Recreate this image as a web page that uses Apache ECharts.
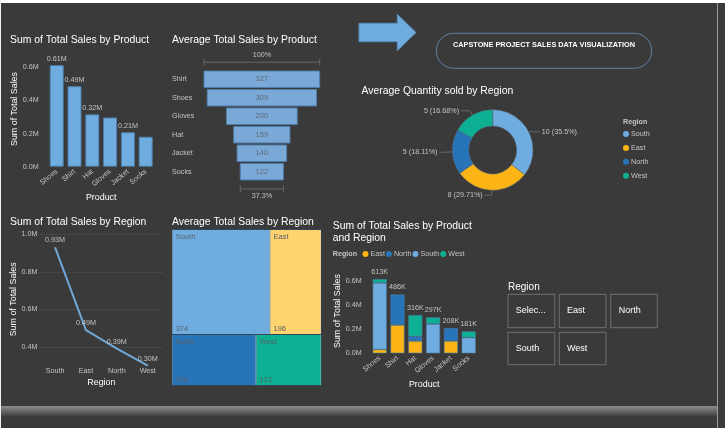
<!DOCTYPE html>
<html><head><meta charset="utf-8">
<style>html,body{margin:0;padding:0;background:#3a3a3a}#c{width:725px;height:428px}</style>
<script src="https://cdn.jsdelivr.net/npm/echarts@6/dist/echarts.min.js"></script>
</head><body><div id="c"></div>
<script>
const productsBySales = ['Shoes','Shirt','Hat','Gloves','Jacket','Socks'];
const salesByProduct = [0.613,0.486,0.316,0.297,0.208,0.181];
const salesLabelShown = [true,true,true,false,true,false];
const productsByAvg = ['Shirt','Shoes','Gloves','Hat','Jacket','Socks'];
const avgSalesByProduct = [327,309,200,159,140,122];
const quantityRegions = ['South','East','North','West'];
const avgQuantity = [10,8,5,5];
const quantityShare = [35.5,29.71,18.11,16.68];
const regions = ['South','East','North','West'];
const salesByRegion = [0.93,0.489,0.39,0.30];
const avgSalesByRegion = [374,196,156,121];
const eastSales =  [0.032,0.234,0.102,null,0.102,null];
const northSales = [null,0.252,0.038,null,0.106,null];
const southSales = [0.550,null,null,0.242,null,0.130];
const westSales =  [0.031,null,0.176,0.055,null,0.051];
const slicerItems = [['Selec...','East','North'],['South','West']];

const FONT='"Liberation Sans",Arial,sans-serif';
const C={South:'#6fade0',East:'#fdb515',North:'#2874b8',West:'#0eb094',TreeEast:'#ffd36e',bg:'#3a3a3a',txt:'#c4c4c4',edge:'#4f7ea8'};
const lab={color:C.txt,fontSize:7.2,fontFamily:FONT};
const nameS=(p)=>({color:'#fff',fontSize:8.9,fontFamily:FONT,padding:p||0});
function text(x,y,t,o){return {type:'text',x,y,silent:true,style:Object.assign({text:t,fill:'#fff',font:'10.4px '+FONT,verticalAlign:'middle'},o||{})};}
function catAxis(i,data,name,gap){return {gridIndex:i,type:'category',data,axisLine:{show:false},axisTick:{show:false},
  axisLabel:Object.assign({},lab,{rotate:40,margin:4,interval:0}),name,nameLocation:'middle',nameGap:gap,nameTextStyle:nameS()};}
function valAxis(i,name,pad){return {gridIndex:i,type:'value',min:0,max:0.6,interval:0.2,splitLine:{show:false},axisLine:{show:false},axisTick:{show:false},
  axisLabel:Object.assign({},lab,{margin:9,formatter:v=>v.toFixed(1)+'M'}),name,nameLocation:'middle',nameGap:24,nameTextStyle:nameS([0,0,0,pad])};}
const stackItem=(name,data)=>({type:'bar',name,xAxisIndex:3,yAxisIndex:3,stack:'s',clip:false,data,barWidth:14,itemStyle:{color:C[name],borderColor:C.edge,borderWidth:.6}});
const maxAvg=Math.max(...avgSalesByProduct);
function funnelItem(params,api){
  const v=api.value(1),i=params.dataIndex;
  const a=api.coord([-v/2,i]),b=api.coord([v/2,i]),h=api.size([0,1])[1]*0.89;
  const kids=[
    {type:'rect',shape:{x:a[0],y:a[1]-h/2,width:b[0]-a[0],height:h},style:{fill:'#7aa9d8',stroke:'#4f7ea8',lineWidth:1}},
    {type:'text',x:(a[0]+b[0])/2,y:a[1],style:{text:String(v),fill:'#5f6a75',font:'7.5px '+FONT,align:'center',verticalAlign:'middle'}}];
  const bracket=(y,ty,label)=>{
    const ln=(x1,y1,x2,y2)=>({type:'line',shape:{x1,y1,x2,y2},style:{stroke:'#666',lineWidth:1}});
    kids.push(ln(a[0],y,b[0],y),ln(a[0],y-3.5,a[0],y+3.5),ln(b[0],y-3.5,b[0],y+3.5),
      {type:'text',x:(a[0]+b[0])/2,y:ty,style:{text:label,fill:C.txt,font:'7.2px '+FONT,align:'center',verticalAlign:'middle'}});};
  const pct=v/maxAvg*100;
  if(i===0) bracket(a[1]-h/2-8.8,a[1]-h/2-16.4,'100%');
  if(i===avgSalesByProduct.length-1) bracket(a[1]+h/2+9,a[1]+h/2+16.5,pct.toFixed(1)+'%');
  return {type:'group',children:kids};
}
const treeSpacer={South:84,East:84,North:30,West:30};
const treeData=regions.map((r,i)=>({name:r,value:avgSalesByRegion[i],
  itemStyle:{color:r==='East'?C.TreeEast:C[r]},
  label:{formatter:`{n|${r}}\n{s${i}|}\n{n|${avgSalesByRegion[i]}}`,
    rich:{n:{fontSize:7.5,height:8,lineHeight:8,color:'#56616b',fontFamily:FONT},['s'+i]:{height:treeSpacer[r],lineHeight:treeSpacer[r]}}}}));
const option={
  backgroundColor:C.bg,animation:false,textStyle:{fontFamily:FONT},
  grid:[
    {left:47.8,width:106.8,top:67.3,height:99.4},
    {left:204,width:115.7,top:70,height:111},
    {left:39.6,width:123.6,top:234.3,height:150},
    {left:370.8,width:106.8,top:280.7,height:72.6}],
  xAxis:[
    catAxis(0,productsBySales,'Product',26.5),
    {gridIndex:1,type:'value',min:-maxAvg/2,max:maxAvg/2,show:false},
    {gridIndex:2,type:'category',data:regions,offset:-18.5,axisLine:{show:false},axisTick:{show:false},
     axisLabel:Object.assign({},lab,{margin:2,interval:0}),name:'Region',nameLocation:'middle',nameGap:12,nameTextStyle:nameS()},
    catAxis(3,productsBySales,'Product',26.5)],
  yAxis:[
    valAxis(0,'Sum of Total Sales',16),
    {gridIndex:1,type:'category',inverse:true,data:productsByAvg,axisLine:{show:false},axisTick:{show:false},
     axisLabel:Object.assign({},lab,{margin:32,align:'left'})},
    {gridIndex:2,type:'value',min:0.2,max:1.0,interval:0.2,axisLine:{show:false},axisTick:{show:false},
     splitLine:{show:true,showMinLine:false,lineStyle:{color:'#555',type:'dotted',width:1}},
     axisLabel:Object.assign({},lab,{margin:2,formatter:v=>v<0.3?'':v.toFixed(1)+'M'}),
     name:'Sum of Total Sales',nameLocation:'middle',nameGap:18.5,nameTextStyle:nameS([0,0,0,20])},
    valAxis(3,'Sum of Total Sales',12)],
  legend:[
    {data:['South','East','North','West'],orient:'vertical',left:623,top:130.5,padding:0,icon:'circle',itemWidth:6,itemHeight:6,itemGap:6.9,
     itemStyle:{borderWidth:0},textStyle:{color:C.txt,fontSize:7.2,fontFamily:FONT,padding:[0,0,0,-3]},selectedMode:false},
    {data:['East','North','South','West'],orient:'horizontal',left:362.5,top:250.5,padding:0,icon:'circle',itemWidth:6,itemHeight:6,itemGap:1,
     itemStyle:{borderWidth:0},textStyle:{color:C.txt,fontSize:7.2,fontFamily:FONT,padding:[0,0,0,-3]},selectedMode:false}],
  series:[
    {type:'bar',xAxisIndex:0,yAxisIndex:0,data:salesByProduct,clip:false,barWidth:14,
     itemStyle:{color:C.South,borderColor:C.edge,borderWidth:1},
     label:{show:true,position:'top',distance:3,color:C.txt,fontSize:7.2,fontFamily:FONT,
       formatter:p=>salesLabelShown[p.dataIndex]?p.value.toFixed(2)+'M':''}},
    {type:'custom',xAxisIndex:1,yAxisIndex:1,clip:false,data:avgSalesByProduct.map((v,i)=>[i,v]),encode:{y:0,x:1},renderItem:funnelItem},
    {type:'line',xAxisIndex:2,yAxisIndex:2,data:salesByRegion,symbol:'circle',symbolSize:1,itemStyle:{color:'#6fa8d8'},
     lineStyle:{color:'#6fa8d8',width:2},
     label:{show:true,position:'top',distance:3,color:C.txt,fontSize:7.2,fontFamily:FONT,formatter:p=>p.value.toFixed(2)+'M'}},
    stackItem('East',eastSales),stackItem('North',northSales),stackItem('South',southSales),stackItem('West',westSales),
    {type:'line',xAxisIndex:3,yAxisIndex:3,data:salesByProduct,clip:false,symbol:'circle',symbolSize:1,itemStyle:{color:'transparent'},lineStyle:{opacity:0},
     label:{show:true,position:'top',distance:3,color:C.txt,fontSize:7.2,fontFamily:FONT,formatter:p=>Math.round(p.value*1000)+'K'}},
    {type:'pie',center:[492.7,150],radius:[24,40.3],startAngle:90,
     data:quantityRegions.map((r,i)=>({name:r,value:quantityShare[i],itemStyle:{color:C[r]},
       labelLine:{length:[1,5,12,5][i],length2:[10,7,1,9][i]}})),
     itemStyle:{borderColor:'#5a6a7a',borderWidth:.5},
     label:{color:C.txt,fontSize:7.2,fontFamily:FONT,alignTo:'none',bleedMargin:0,distanceToLabelLine:2,
       formatter:p=>`${avgQuantity[p.dataIndex]} (${quantityShare[p.dataIndex]}%)`},
     labelLine:{lineStyle:{color:'#666',width:1},smooth:false},avoidLabelOverlap:false},
    {type:'treemap',left:171.7,top:229,width:150,height:157,breadcrumb:{show:false},roam:false,nodeClick:false,
     data:treeData,
     label:{show:true,position:'insideTopLeft',distance:3,padding:0},
     levels:[{itemStyle:{borderColor:'#33465a',borderWidth:1,gapWidth:1}},{itemStyle:{borderWidth:0,gapWidth:0}}]}
  ],
  graphic:[
    {type:'rect',z:-10,shape:{x:0,y:0,width:725,height:3},style:{fill:'#fff'},silent:true},
    {type:'rect',z:-10,shape:{x:0,y:0,width:1,height:428},style:{fill:'#f2f2f2'},silent:true},
    {type:'rect',z:-10,shape:{x:717,y:3,width:1,height:425},style:{fill:'#9a9a9a'},silent:true},
    {type:'rect',z:-10,shape:{x:1,y:406,width:716,height:11},silent:true,
     style:{fill:{type:'linear',x:0,y:0,x2:0,y2:1,colorStops:[{offset:0,color:'#8c8c8c'},{offset:1,color:'#3a3a3a'}]}}},
    {type:'polygon',shape:{points:[[359,23.3],[397.3,23.3],[397.3,14.3],[416,32.5],[397.3,50.7],[397.3,41.7],[359,41.7]]},style:{fill:'#6fade0',stroke:'#5a8fbd',lineWidth:1},silent:true},
    {type:'rect',shape:{x:436.3,y:33.3,width:215.4,height:35,r:17.5},style:{fill:'transparent',stroke:'#5a83a8',lineWidth:1},silent:true},
    text(544,45.3,'CAPSTONE PROJECT SALES DATA VISUALIZATION',{font:'bold 7.3px '+FONT,align:'center'}),
    text(10,40.2,'Sum of Total Sales by Product'),
    text(172,40.2,'Average Total Sales by Product'),
    text(361.5,91.2,'Average Quantity sold by Region'),
    text(10,222.3,'Sum of Total Sales by Region'),
    text(172,222.3,'Average Total Sales by Region'),
    text(332.7,226.4,'Sum of Total Sales by Product'),
    text(332.7,238.4,'and Region'),
    text(623,121.7,'Region',{font:'bold 7.2px '+FONT,fill:C.txt}),
    text(332.7,253.7,'Region',{font:'bold 7.2px '+FONT,fill:C.txt}),
    text(508,287,'Region',{font:'10px '+FONT}),
    ...slicerItems.flatMap((row,r)=>row.map((t,c)=>{
      const x=[508,559.3,610.7][c],y=[294.3,332.3][r],h=[33.4,32.4][r];
      return {type:'group',silent:true,children:[
        {type:'rect',shape:{x,y,width:46.7,height:h},style:{fill:'transparent',stroke:'#666',lineWidth:1.2}},
        text(x+[7.7,7.7,8][c],y+h/2,t,{font:'9px '+FONT})]};
    }))
  ]
};
echarts.init(document.getElementById('c'),null,{renderer:'canvas'}).setOption(option);
</script></body></html>
